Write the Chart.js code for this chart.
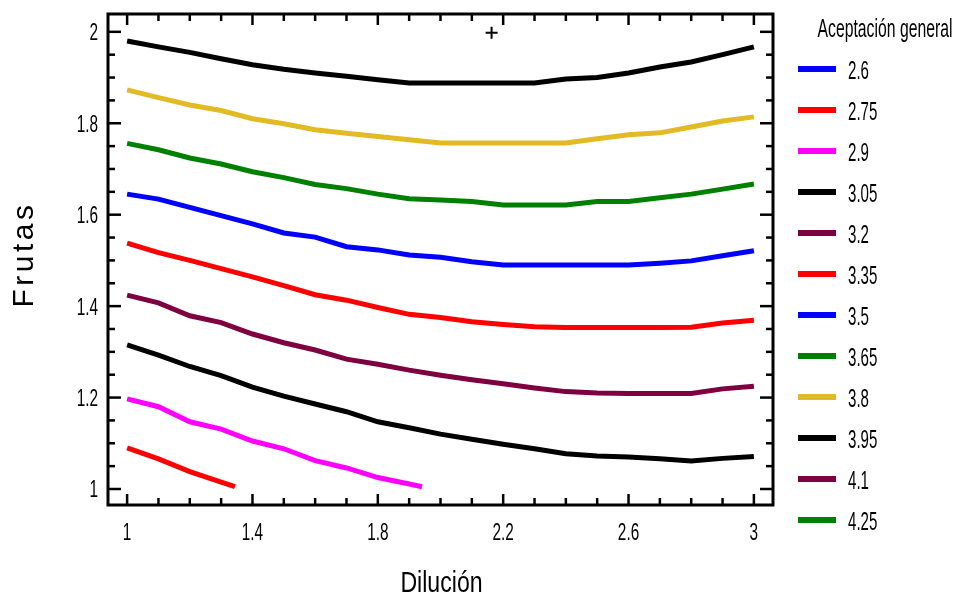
<!DOCTYPE html>
<html><head><meta charset="utf-8">
<script src="https://cdn.jsdelivr.net/npm/chart.js@4.4.1/dist/chart.umd.min.js"></script>
<style>html,body{margin:0;padding:0;background:#fff}canvas{display:block}</style>
</head><body>
<canvas id="c" width="958" height="597"></canvas>
<script>
// ---- data ----
const niveles = ['2.6','2.75','2.9','3.05','3.2','3.35','3.5','3.65','3.8','3.95','4.1','4.25'];
const colores = ['#0000FF','#FF0000','#FF00FF','#000000','#7F0040','#FF0000','#0000FF','#008000','#E2BA24','#000000','#7F0040','#008000'];

const dilucion = [1.0,1.1,1.2,1.3,1.4,1.5,1.6,1.7,1.8,1.9,2.0,2.1,2.2,2.3,2.4,2.5,2.6,2.7,2.8,2.9,3.0];
const dilucion275 = [1.0,1.1,1.2,1.3,1.344];
const dilucion290 = [1.0,1.1,1.2,1.3,1.4,1.5,1.6,1.7,1.8,1.9,1.941];

const frutas260 = [];
const frutas275 = [1.090,1.066,1.038,1.015,1.005];
const frutas290 = [1.197,1.180,1.147,1.131,1.105,1.088,1.062,1.046,1.025,1.011,1.005];
const frutas305 = [1.315,1.293,1.268,1.248,1.223,1.203,1.186,1.169,1.147,1.134,1.120,1.109,1.098,1.088,1.077,1.072,1.070,1.066,1.061,1.067,1.071];
const frutas320 = [1.424,1.407,1.379,1.364,1.339,1.320,1.304,1.284,1.273,1.260,1.249,1.239,1.230,1.221,1.213,1.210,1.209,1.209,1.209,1.219,1.225];
const frutas335 = [1.538,1.517,1.500,1.482,1.464,1.445,1.425,1.413,1.397,1.382,1.375,1.366,1.360,1.355,1.353,1.353,1.353,1.353,1.354,1.363,1.369];
const frutas350 = [1.645,1.634,1.616,1.598,1.580,1.560,1.551,1.530,1.523,1.512,1.507,1.497,1.490,1.490,1.490,1.490,1.490,1.494,1.499,1.510,1.521];
const frutas365 = [1.756,1.742,1.724,1.711,1.694,1.681,1.666,1.657,1.645,1.635,1.632,1.629,1.621,1.621,1.621,1.629,1.629,1.637,1.645,1.656,1.667];
const frutas380 = [1.873,1.856,1.840,1.828,1.810,1.799,1.786,1.778,1.771,1.764,1.757,1.757,1.757,1.757,1.757,1.766,1.775,1.779,1.792,1.805,1.814];
const frutas395 = [1.980,1.967,1.955,1.941,1.928,1.918,1.910,1.903,1.895,1.888,1.888,1.888,1.888,1.888,1.897,1.900,1.910,1.923,1.934,1.950,1.967];
const frutas410 = [];
const frutas425 = [];

const optimoDilucion = [2.163];
const optimoFrutas = [1.998];

const xTicks = [1,1.4,1.8,2.2,2.6,3];
const yTicks = [1,1.2,1.4,1.6,1.8,2];

// ---- build ----
const seriesX = [dilucion, dilucion275, dilucion290, dilucion, dilucion, dilucion, dilucion, dilucion, dilucion, dilucion, dilucion, dilucion];
const seriesY = [frutas260, frutas275, frutas290, frutas305, frutas320, frutas335, frutas350, frutas365, frutas380, frutas395, frutas410, frutas425];

const SANS = '"Liberation Sans",Arimo,Arial,sans-serif';

const datasets = niveles.map((lab, k) => ({
  label: lab,
  data: seriesY[k].map((v, i) => ({x: seriesX[k][i], y: v})),
  borderColor: colores[k],
  backgroundColor: colores[k],
  borderWidth: 5,
  borderCapStyle: 'butt',
  pointRadius: 0,
  tension: 0,
  fill: false
}));
datasets.push({
  label: '_optimo',
  data: optimoDilucion.map((v, i) => ({x: v, y: optimoFrutas[i]})),
  showLine: false,
  pointStyle: 'cross',
  pointRadius: 6,
  pointBorderWidth: 2,
  borderColor: '#000',
  backgroundColor: '#000'
});

function squeezed(ctx, text, x, y, size, sx, align) {
  ctx.save();
  ctx.translate(x, y);
  ctx.scale(sx, 1);
  ctx.font = size + 'px ' + SANS;
  ctx.textAlign = align;
  ctx.textBaseline = 'alphabetic';
  ctx.fillText(text, 0, 0);
  ctx.restore();
}

const framePlugin = {
  id: 'frame',
  afterDatasetsDraw(chart) {
    const {ctx, chartArea: a, scales: {x, y}} = chart;
    ctx.save();
    ctx.strokeStyle = '#000';
    ctx.lineCap = 'butt';
    ctx.lineWidth = 2.5;
    const seg = (x1, y1, x2, y2) => { ctx.beginPath(); ctx.moveTo(x1, y1); ctx.lineTo(x2, y2); ctx.stroke(); };
    for (let i = 0; i <= 20; i++) {
      const px = x.getPixelForValue(1 + i * 0.1);
      const L = i % 4 === 0 ? 11 : 7;
      seg(px, a.bottom, px, a.bottom - L);
      seg(px, a.top, px, a.top + L);
    }
    for (let i = 0; i <= 20; i++) {
      const py = y.getPixelForValue(1 + i * 0.05);
      const L = i % 4 === 0 ? 13 : 7;
      seg(a.left, py, a.left + L, py);
      seg(a.right, py, a.right - L, py);
    }
    ctx.lineWidth = 3;
    ctx.strokeRect(a.left, a.top, a.right - a.left, a.bottom - a.top);
    ctx.restore();
  },
  afterDraw(chart) {
    const {ctx, chartArea: a, scales: {x, y}} = chart;
    ctx.save();
    ctx.fillStyle = '#000';
    // tick labels from the scales
    x.ticks.forEach(t => squeezed(ctx, String(t.value), x.getPixelForValue(t.value), a.bottom + 35, 24, 0.64, 'center'));
    y.ticks.forEach(t => squeezed(ctx, String(t.value), a.left - 10, y.getPixelForValue(t.value) + 8.5, 24, 0.64, 'right'));
    // axis titles
    ctx.save();
    ctx.translate(33, (a.top + a.bottom) / 2 - 3);
    ctx.rotate(-Math.PI / 2);
    ctx.font = '30px ' + SANS;
    ctx.textAlign = 'center';
    ctx.textBaseline = 'alphabetic';
    try { ctx.letterSpacing = '3.5px'; } catch (e) {}
    ctx.fillText('Frutas', 2, 0);
    ctx.restore();
    squeezed(ctx, 'Dilución', (a.left + a.right) / 2 + 1, 592, 30, 0.77, 'center');
    // legend
    squeezed(ctx, 'Aceptación general', 885, 37, 25, 0.63, 'center');
    const items = chart.data.datasets.filter(d => !d.label.startsWith('_'));
    items.forEach((d, i) => {
      const cy = 69 + i * 41;
      ctx.strokeStyle = d.borderColor;
      ctx.lineWidth = 6;
      ctx.beginPath(); ctx.moveTo(798, cy); ctx.lineTo(836, cy); ctx.stroke();
      squeezed(ctx, d.label, 848, cy + 9.5, 26, 0.58, 'left');
    });
    ctx.restore();
  }
};

new Chart(document.getElementById('c'), {
  type: 'line',
  data: {datasets},
  options: {
    responsive: false,
    animation: false,
    layout: {padding: {top: 14, right: 185, left: 0, bottom: 0}},
    plugins: {legend: {display: false}, tooltip: {enabled: false}, title: {display: false}},
    scales: {
      x: {
        type: 'linear', min: 0.939, max: 3.061,
        afterFit: s => { s.height = 92; s.paddingLeft = 0; s.paddingRight = 0; },
        afterBuildTicks: s => { s.ticks = xTicks.map(v => ({value: v})); },
        grid: {display: false, drawTicks: false},
        border: {display: false},
        ticks: {display: false}
      },
      y: {
        type: 'linear', min: 0.965, max: 2.039,
        afterFit: s => { s.width = 108; s.paddingTop = 0; s.paddingBottom = 0; },
        afterBuildTicks: s => { s.ticks = yTicks.map(v => ({value: v})); },
        grid: {display: false, drawTicks: false},
        border: {display: false},
        ticks: {display: false}
      }
    }
  },
  plugins: [framePlugin]
});
</script>
</body></html>
